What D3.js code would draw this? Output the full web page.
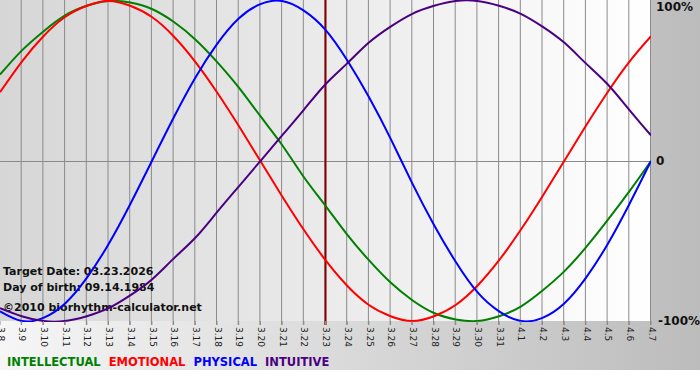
<!DOCTYPE html>
<html>
<head>
<meta charset="utf-8">
<script src="https://cdn.jsdelivr.net/npm/d3@7"></script>
<style>
	html, body { margin: 0; padding: 0; background: #fff; }
	#chart { width: 700px; height: 380px; }
</style>
</head>
<body>
<div id="chart"></div>
<script>
let days = ['3.8', '3.9', '3.10', '3.11', '3.12', '3.13', '3.14', '3.15', '3.16', '3.17', '3.18', '3.19', '3.20', '3.21', '3.22', '3.23',
	'3.24', '3.25', '3.26', '3.27', '3.28', '3.29', '3.30', '3.31', '4.1', '4.2', '4.3', '4.4', '4.5', '4.6', '4.7'];
let intellectual = [0.54, 0.69, 0.81, 0.91, 0.97, 1.00, 0.99, 0.95, 0.87, 0.76, 0.62, 0.46, 0.28, 0.10, -0.10, -0.28,
	-0.46, -0.62, -0.76, -0.87, -0.95, -0.99, -1.00, -0.97, -0.91, -0.81, -0.69, -0.54, -0.37, -0.19, 0.00];
let emotional = [0.43, 0.62, 0.78, 0.90, 0.97, 1.00, 0.97, 0.90, 0.78, 0.62, 0.43, 0.22, 0.00, -0.22, -0.43, -0.62,
	-0.78, -0.90, -0.97, -1.00, -0.97, -0.90, -0.78, -0.62, -0.43, -0.22, 0.00, 0.22, 0.43, 0.62, 0.78];
let physical = [-0.94, -1.00, -0.98, -0.89, -0.73, -0.52, -0.27, 0.00, 0.27, 0.52, 0.73, 0.89, 0.98, 1.00, 0.94, 0.82,
	0.63, 0.40, 0.14, -0.14, -0.40, -0.63, -0.82, -0.94, -1.00, -0.98, -0.89, -0.73, -0.52, -0.27, 0.00];
let intuitive = [-0.92, -0.97, -1.00, -1.00, -0.97, -0.92, -0.84, -0.74, -0.61, -0.48, -0.32, -0.16, 0.00, 0.16, 0.32, 0.48,
	0.61, 0.74, 0.84, 0.92, 0.97, 1.00, 1.00, 0.97, 0.92, 0.84, 0.74, 0.61, 0.48, 0.32, 0.16];
let seriesNames = ['INTELLECTUAL', 'EMOTIONAL', 'PHYSICAL', 'INTUITIVE'];
let seriesColors = ['#008000', '#ff0000', '#0000ff', '#4b0082'];
let yTicks = [1, 0, -1];
let yTickLabels = ['100%', '0', '-100%'];
let targetDay = '3.23';
let infoLines = ['Target Date: 03.23.2026', 'Day of birth: 09.14.1984', '\u00a92010 biorhythm-calculator.net'];

let BioChart = function (ele) {
	typeof(ele) == 'string' && (ele = document.getElementById(ele));
	this.w = 700;
	this.h = 380;
	this.plot = {left: 0, right: 651, top: 1, bottom: 321};
	this.svg = d3.select(ele).append('svg').attr('width', this.w).attr('height', this.h)
		.style('font-family', 'Tahoma, "DejaVu Sans", sans-serif');
	this.init();
}

BioChart.prototype = {
	init () {
		this.x = d3.scalePoint().domain(days).range([this.plot.left, this.plot.right]);
		this.y = d3.scaleLinear().domain([-1, 1]).range([this.plot.bottom, this.plot.top]);
		this.setBackground();
		this.setGrid();
		this.setInfo();
		this.setLines();
		this.setAxes();
		this.setLegend();
	},
	setBackground () {
		let defs = this.svg.append('defs');
		let outer = defs.append('linearGradient').attr('id', 'outerGrad').attr('x1', 0).attr('x2', 1).attr('y1', 0).attr('y2', 0);
		outer.append('stop').attr('offset', '0%').attr('stop-color', '#f6f6f6');
		outer.append('stop').attr('offset', '100%').attr('stop-color', '#bcbcbc');
		let inner = defs.append('linearGradient').attr('id', 'innerGrad').attr('x1', 0).attr('x2', 1).attr('y1', 0).attr('y2', 0);
		inner.append('stop').attr('offset', '0%').attr('stop-color', '#d6d6d6');
		inner.append('stop').attr('offset', '100%').attr('stop-color', '#ffffff');
		defs.append('clipPath').attr('id', 'plotClip').append('rect')
			.attr('x', this.plot.left).attr('y', 0)
			.attr('width', this.plot.right - this.plot.left).attr('height', this.plot.bottom + 1);
		this.svg.append('rect').attr('width', this.w).attr('height', 370).attr('fill', 'url(#outerGrad)');
		this.svg.append('rect').attr('x', this.plot.left).attr('y', 0)
			.attr('width', this.plot.right - this.plot.left).attr('height', this.plot.bottom)
			.attr('fill', 'url(#innerGrad)');
	},
	setGrid () {
		let that = this;
		let grid = this.svg.append('g').attr('class', 'grid');
		grid.selectAll('line.v').data(days.slice(1)).enter().append('line').attr('class', 'v')
			.attr('x1', d => that.x(d) - 0.5).attr('x2', d => that.x(d) - 0.5)
			.attr('y1', 0).attr('y2', this.plot.bottom + 4)
			.attr('stroke', '#8a8a8a').attr('stroke-width', 1);
		grid.append('line').attr('x1', this.plot.left).attr('x2', this.plot.right)
			.attr('y1', Math.round(this.y(0)) + 0.5).attr('y2', Math.round(this.y(0)) + 0.5)
			.attr('stroke', '#8a8a8a').attr('stroke-width', 1);
		grid.append('line').attr('x1', this.x(targetDay)).attr('x2', this.x(targetDay))
			.attr('y1', 0).attr('y2', this.plot.bottom + 4)
			.attr('stroke', '#800000').attr('stroke-width', 2);
	},
	setInfo () {
		this.svg.append('g').selectAll('text').data(infoLines).enter().append('text')
			.attr('x', 3).attr('y', (d, i) => [275, 291, 311][i])
			.attr('font-size', '11px').attr('font-weight', 'bold').attr('fill', '#111')
			.text(d => d);
	},
	setLines () {
		let that = this;
		let all = [intellectual, emotional, physical, intuitive];
		let line = d3.line().x((d, i) => that.x(days[i])).y(d => that.y(d)).curve(d3.curveNatural);
		this.svg.append('g').attr('clip-path', 'url(#plotClip)').selectAll('path').data(all).enter().append('path')
			.attr('d', d => line(d)).attr('fill', 'none')
			.attr('stroke', (d, i) => seriesColors[i]).attr('stroke-width', 2);
	},
	setAxes () {
		let that = this;
		let bottom = this.svg.append('g').attr('transform', `translate(0,${this.plot.bottom})`)
			.call(d3.axisBottom(this.x).tickSize(4).tickSizeOuter(0));
		bottom.select('.domain').remove();
		bottom.selectAll('line').attr('stroke', '#8a8a8a').attr('transform', 'translate(-0.5,0)');
		bottom.selectAll('text').attr('transform', 'rotate(90)').attr('x', 6).attr('y', 0).attr('dy', '0.32em')
			.attr('text-anchor', 'start').attr('font-size', '9px').attr('fill', '#222')
			.attr('font-family', 'Tahoma, "DejaVu Sans", sans-serif');
		let right = this.svg.append('g');
		right.selectAll('text').data(yTicks).enter().append('text')
			.attr('x', (d, i) => [656, 656, 658][i])
			.attr('y', d => Math.min(Math.max(that.y(d), 7), 322))
			.attr('dy', '0.35em')
			.attr('font-size', '12px').attr('font-weight', 'bold').attr('fill', '#111')
			.text((d, i) => yTickLabels[i]);
	},
	setLegend () {
		let g = this.svg.append('g').attr('transform', 'translate(7,366)');
		let offset = 0;
		seriesNames.forEach((name, i) => {
			let t = g.append('text').attr('x', offset).attr('y', 0)
				.attr('font-size', '11.5px').attr('font-weight', 'bold')
				.attr('fill', seriesColors[i]).text(name);
			offset += t.node().getComputedTextLength() + 8;
		});
	}
}

new BioChart('chart');
</script>
</body>
</html>
